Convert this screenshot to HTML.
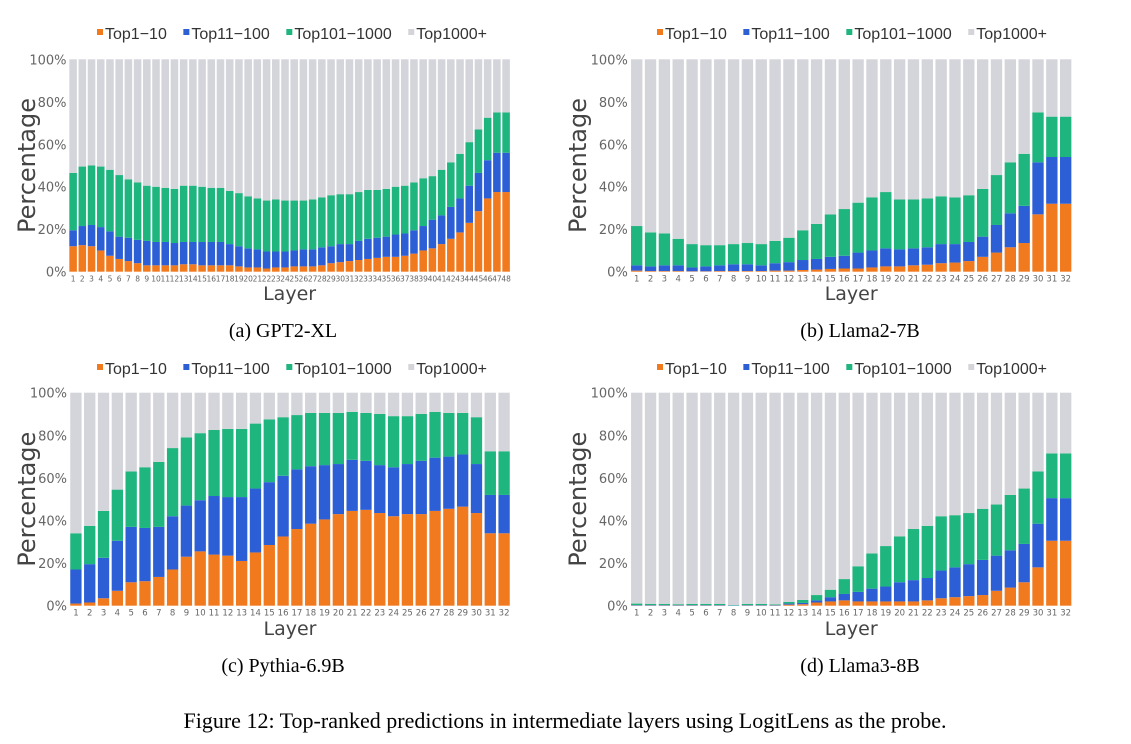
<!DOCTYPE html>
<html><head><meta charset="utf-8"><style>
body{margin:0;background:#fff;width:1131px;height:744px;overflow:hidden;}
svg{display:block;}
</style></head><body>
<svg id="fig" width="1131" height="744" xmlns="http://www.w3.org/2000/svg" font-family="DejaVu Sans, Liberation Sans, sans-serif"></svg>
<script>
// Cumulative tops (%) per layer: Top1-10, +Top11-100, +Top101-1000 ; remainder = Top1000+
const gptTop10=[12,12.5,12,10,7.5,6,5,4,3,3,3,3,3.5,3.5,3,3,3,3,2.5,2,2,1.5,2,2,2.5,2.5,2.5,3,4,4.5,5,5.5,6,6.5,7,7,7.5,8.5,10,11,13,15.5,18.5,23,28.5,34.5,37.5,37.5];
const gptTop100=[19.5,21.5,22,21,19,16.5,16,15,14.5,14,14,13.5,14,14,14,14,14,13,12,11,10.5,9.5,9.5,9.5,10,10.5,10.5,11.5,12,13,13,14.5,15.5,16,16.5,17.5,18,19.5,21.5,24.5,26.5,30.5,34.5,40.5,46.5,52.5,56,56];
const gptTop1000=[46.5,49.5,50,49.5,48,45.5,43.5,42,40.5,40,39.5,39,40.5,40.5,40,39.5,39.5,38,37,35.5,34.5,33.5,34,33.5,33.5,33.5,34,35,36,36.5,36.5,37.5,38.5,38.5,39,40,40.5,42,44,45,48,51.5,55.5,61,67,72.5,75,75];
const l2Top10=[0.5,0.3,0.3,0.3,0.2,0.2,0.3,0.3,0.3,0.3,0.5,0.5,0.8,1,1.3,1.5,1.5,2,2.5,2.5,3,3.3,4,4.3,5,7,9,11.5,13.5,27,32,32];
const l2Top100=[3,2.5,3,3,2,2.5,3,3.5,3.5,3,4,4.5,5.5,6,7,7.5,9,10,11,10.5,11,11.5,13,13,14,16.5,22,27.5,31,51.5,54,54];
const l2Top1000=[21.5,18.5,18,15.5,13,12.5,12.5,13,13.5,13,14.5,16,19.5,22.5,27,29.5,32.5,35,37.5,34,34,34.5,35.5,35,36,39,45.5,51.5,55.5,75,73,73];
const pyTop10=[1,1.5,3.5,7,11,11.5,13.5,17,23,25.5,24,23.5,21,25,28.5,32.5,36,38.5,40.5,43,44.5,45,43.5,42,43,43,44.5,45.5,46.5,43.5,34,34];
const pyTop100=[17,19.5,22.5,30.5,37,36.5,37,42,47,49.5,51.5,51,51,55,58,61,64,65.5,66,66.5,68.5,68,66,65,66.5,68,69.5,70,71,66.5,52,52];
const pyTop1000=[34,37.5,44.5,54.5,63,65,67.5,74,79,81,82.5,83,83,85.5,87.5,88.5,89.5,90.5,90.5,90.5,91,90.5,90,89,89,90,91,90.5,90.5,88.5,72.5,72.5];
const l3Top10=[0.1,0.1,0.1,0.1,0.1,0.1,0.1,0,0.1,0.1,0.1,0.5,0.7,1.5,2,2.5,2,2,2,2,2,2.5,3.5,4,4.5,5,7,8.5,11,18,30.5,30.5];
const l3Top100=[0.3,0.3,0.3,0.3,0.3,0.3,0.3,0.1,0.3,0.3,0.3,1,1.3,2.5,4,5.5,6.5,8,9,11,12,13,16.5,18,19.5,21.5,23.5,26,29,38.5,50.5,50.5];
const l3Top1000=[1,0.8,0.8,0.7,0.8,0.8,0.8,0.3,0.8,0.8,0.6,1.8,2.7,5,7.5,12.5,18.5,24.5,28,32.5,36,37.5,42,42.5,43.5,45.5,47.5,52,55,63,71.5,71.5];
const yTicks=[0,20,40,60,80,100];
const legendLabels=["Top1\u221210","Top11\u2212100","Top101\u22121000","Top1000+"];
const captions=["(a) GPT2-XL","(b) Llama2-7B","(c) Pythia-6.9B","(d) Llama3-8B"];

const colors=["#f27a1e","#2c5fd6","#1fb57f","#d4d5da"];
const NS="http://www.w3.org/2000/svg";
const svg=document.getElementById('fig');
function mk(tag,attrs,parent,text){const e=document.createElementNS(NS,tag);for(const k in attrs)e.setAttribute(k,attrs[k]);if(text!==undefined)e.textContent=text;(parent||svg).appendChild(e);return e;}

const panels=[
 {id:"gpt2-xl",d:[gptTop10,gptTop100,gptTop1000],x0:68.5,x1:510.7,y0:271.7,y1:59.3,off:0,top:20,tickFs:7.5},
 {id:"llama2-7b",d:[l2Top10,l2Top100,l2Top1000],x0:629.8,x1:1072.6,y0:271.7,y1:59.3,off:560,top:20,tickFs:8.5},
 {id:"pythia-6.9b",d:[pyTop10,pyTop100,pyTop1000],x0:69,x1:511,y0:605.7,y1:392.7,off:0,top:355,tickFs:8.5},
 {id:"llama3-8b",d:[l3Top10,l3Top100,l3Top1000],x0:629.8,x1:1072.6,y0:605.7,y1:392.7,off:560,top:355,tickFs:8.5}
];
panels.forEach((p,pi)=>{
  const g=mk('g',{});
  
  
  const n=p.d[0].length;
  const band=(p.x1-p.x0)/n;
  const xS=i=>p.x0+band*i;
  const yS=v=>p.y0-(p.y0-p.y1)*v/100;
  // legend
  const lg=mk('g',{},g);
  
  
  let cx=(pi%2?657:97);
  const targetEnd=cx+390;
  const items=[];
  legendLabels.forEach((lab,k)=>{
    const eg=mk('g',{},lg);
    
    
    const sq=mk('rect',{x:0,y:p.top+9,width:6,height:6,fill:colors[k]},eg);
    const t=mk('text',{x:0,y:p.top+19,'font-size':16,fill:'#333','font-family':'Liberation Sans, sans-serif'},eg,lab);
    items.push([sq,t]);
  });
  let total=0;items.forEach(([s,t])=>total+=8+t.getComputedTextLength());
  const gap=Math.max(3,(targetEnd-cx-total)/3);
  items.forEach(([s,t])=>{s.setAttribute('x',cx);t.setAttribute('x',cx+8);cx+=8+t.getComputedTextLength()+gap;});
  // bars
  for(let i=0;i<n;i++){
    const bx=xS(i)+band*0.09, bw=band*0.82;
    const tops=[p.d[0][i],p.d[1][i],p.d[2][i],100];
    let prev=0;
    tops.forEach((t,k)=>{
      const r=mk('rect',{x:bx,y:yS(t),width:bw,height:Math.max(0,yS(prev)-yS(t)),fill:colors[k]},g);
      
      
      prev=t;
    });
    const tl=mk('text',{x:xS(i)+band/2,y:p.y0+10,'font-size':p.tickFs,'text-anchor':'middle',fill:'#666'},g,String(i+1));
    
    
  }
  yTicks.forEach(v=>{
    const t=mk('text',{x:p.x0-2,y:yS(v)+5,'font-size':13,'text-anchor':'end',fill:'#666'},g,v+'%');
    
    
  });
  const yt=mk('text',{x:0,y:0,'font-size':24,'text-anchor':'middle',fill:'#444',transform:`translate(${p.off+(pi%2?26:35)},${(p.y0+p.y1)/2}) rotate(-90)`},g,'Percentage');
  
  
  const xt=mk('text',{x:(p.x0+p.x1)/2,y:p.top+280,'font-size':19,'text-anchor':'middle',fill:'#444'},g,'Layer');
  
  
  const cp=mk('text',{x:pi%2?860:283,y:p.top+317,'font-size':20,'text-anchor':'middle',fill:'#000','font-family':'Liberation Serif, serif'},g,captions[pi]);
  
  
});
const fc=mk('text',{x:565,y:728,'font-size':22,'text-anchor':'middle',fill:'#000','font-family':'Liberation Serif, serif'},svg,'Figure 12: Top-ranked predictions in intermediate layers using LogitLens as the probe.');


</script>
</body></html>
